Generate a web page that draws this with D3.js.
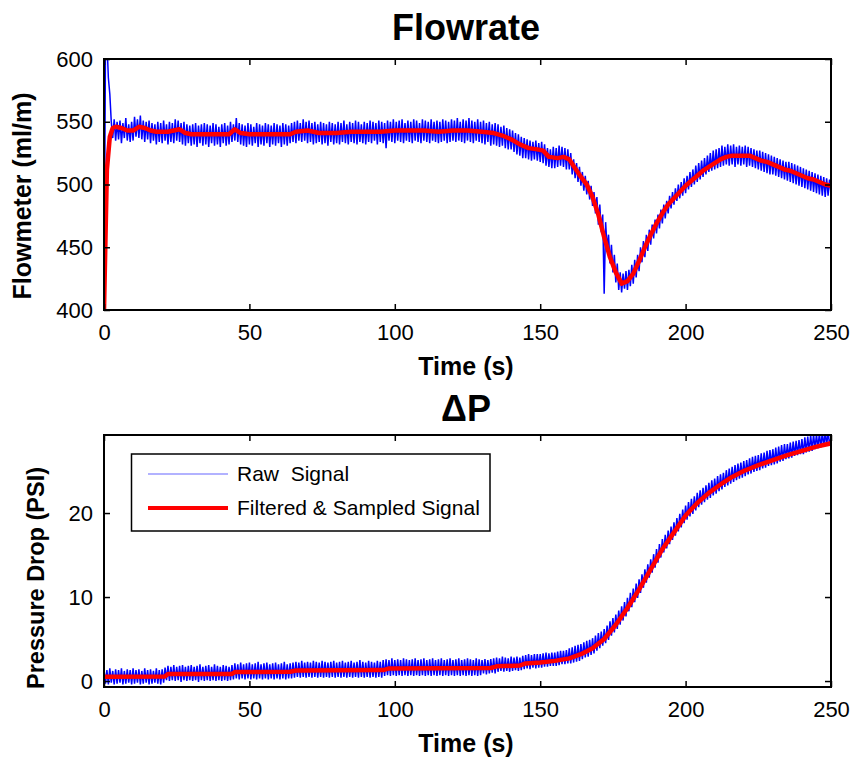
<!DOCTYPE html>
<html><head><meta charset="utf-8">
<script src="https://cdn.jsdelivr.net/npm/d3@7"></script>
<style>body{margin:0;background:#fff} text{font-family:"Liberation Sans",Arial,sans-serif;fill:#000}</style>
</head><body><svg id="c" width="855" height="760"></svg>
<script>
// ---------- data ----------
const rawStep = 0.5; // s between raw samples
const rawFlow = [
400,605,615,585,572,550,537,552,535,550,
536,551,533,549,537,553,535,548,534,550,
535,554,538,552,537,555,536,551,534,550,
536,551,533,549,535,548,532,550,534,549,
533,551,535,548,532,550,534,549,533,552,
535,551,534,549,532,550,531,548,533,547,
531,548,532,549,530,547,533,548,531,549,
532,548,530,547,533,549,531,548,532,546,
530,548,533,549,531,547,532,550,534,548,
535,553,534,549,532,548,531,547,530,549,
532,548,531,546,533,549,530,548,532,547,
531,549,533,548,530,547,532,549,531,548,
533,547,530,549,532,548,531,547,533,549,
534,550,533,551,535,549,534,552,535,550,
533,551,534,549,532,550,533,548,534,550,
532,549,533,548,531,550,534,549,532,548,
533,550,532,549,534,551,533,548,532,550,
534,549,533,551,532,550,534,548,533,550,
532,549,534,551,533,550,535,549,532,551,
534,550,533,549,529,551,535,550,534,552,
533,550,535,551,534,552,533,549,535,551,
534,550,533,552,535,551,534,549,533,552,
535,551,534,550,533,552,535,550,534,551,
533,550,534,552,535,551,533,550,534,552,
535,551,534,553,535,550,534,552,533,551,
535,553,534,551,533,550,535,552,534,550,
533,551,532,549,534,550,531,548,532,549,
531,548,530,546,531,547,529,545,528,544,
528,543,526,541,524,540,523,538,521,537,
521,536,520,535,519,534,520,535,519,533,
518,534,517,532,515,529,514,528,513,530,
513,529,514,531,515,530,514,529,512,528,
512,525,508,520,505,517,502,514,499,510,
495,507,492,503,488,499,483,494,477,490,
468,484,462,476,413,470,449,460,437,452,
430,444,422,437,416,430,414,429,417,431,
416,432,419,436,421,440,426,444,431,450,
438,455,442,460,447,464,452,468,457,472,
461,476,465,480,469,484,473,487,477,491,
481,494,484,497,487,500,489,502,491,505,
493,507,496,510,498,512,500,515,502,517,
504,519,506,521,508,523,510,525,511,527,
512,528,513,529,514,531,515,530,516,532,
515,531,516,532,514,530,516,531,515,530,
516,531,514,530,515,529,514,528,513,527,
512,527,511,526,510,525,509,524,508,523,
508,522,507,521,506,520,505,519,504,518,
503,518,502,517,501,516,500,515,499,514,
498,513,497,512,496,511,495,510,494,509,
493,508,492,507,491,506,490,505,491,504,
493];
const rawDP = [
1.4,-0.3,1.3,-0.4,1.5,-0.2,1.2,-0.4,1.4,-0.3,
1.3,-0.2,1.5,-0.4,1.2,-0.3,1.4,-0.2,1.3,-0.4,
1.5,-0.3,1.3,-0.2,1.4,-0.4,1.2,-0.3,1.5,-0.2,
1.3,-0.4,1.4,-0.3,1.2,-0.2,1.5,-0.3,1.3,-0.4,
1.4,-0.2,1.6,0.1,1.8,0.0,1.7,0.1,1.9,0.0,
1.7,0.1,1.8,-0.1,1.9,0.1,1.7,0.0,1.8,0.1,
1.9,0.0,1.7,0.1,1.8,-0.1,2.0,0.1,1.7,0.0,
1.8,0.1,1.9,0.0,1.7,0.1,2.0,0.0,1.8,0.1,
1.7,0.0,1.9,0.1,1.8,0.0,1.7,0.1,1.9,0.2,
2.1,0.3,2.0,0.2,2.2,0.3,2.0,0.2,2.1,0.3,
2.2,0.2,2.0,0.3,2.1,0.2,2.3,0.3,2.0,0.2,
2.1,0.3,2.2,0.2,2.0,0.3,2.1,0.2,2.2,0.3,
2.0,0.2,2.1,0.3,2.3,0.2,2.0,0.3,2.1,0.3,
2.2,0.4,2.3,0.5,2.2,0.4,2.4,0.5,2.2,0.4,
2.3,0.5,2.2,0.4,2.4,0.5,2.3,0.4,2.2,0.5,
2.4,0.4,2.3,0.5,2.2,0.4,2.3,0.5,2.4,0.4,
2.2,0.5,2.3,0.4,2.4,0.5,2.2,0.4,2.3,0.5,
2.4,0.4,2.2,0.5,2.3,0.4,2.5,0.5,2.3,0.4,
2.2,0.5,2.4,0.4,2.3,0.5,2.2,0.4,2.4,0.5,
2.3,0.4,2.5,0.6,2.6,0.7,2.5,0.6,2.7,0.7,
2.5,0.6,2.6,0.7,2.5,0.6,2.7,0.7,2.6,0.6,
2.5,0.7,2.6,0.6,2.7,0.7,2.5,0.6,2.6,0.7,
2.7,0.6,2.5,0.7,2.6,0.6,2.7,0.7,2.5,0.6,
2.6,0.7,2.7,0.6,2.5,0.7,2.6,0.6,2.7,0.7,
2.5,0.6,2.6,0.7,2.7,0.6,2.5,0.7,2.6,0.6,
2.7,0.7,2.6,0.6,2.5,0.7,2.7,0.6,2.6,0.7,
2.5,0.9,2.6,0.8,2.5,0.9,2.6,1.0,2.7,0.9,
2.8,1.1,2.7,1.2,2.9,1.1,2.8,1.2,2.7,1.1,
2.9,1.2,2.8,1.3,2.9,1.2,2.8,1.3,3.0,1.4,
3.1,1.5,3.2,1.4,3.1,1.6,3.2,1.5,3.2,1.6,
3.2,1.6,3.3,1.7,3.4,1.7,3.3,1.8,3.4,1.8,
3.4,1.8,3.5,1.9,3.6,2.0,3.6,2.0,3.7,2.1,
3.9,2.1,4.0,2.2,4.2,2.3,4.3,2.4,4.4,2.6,
4.6,2.8,4.8,2.9,4.9,3.1,5.1,3.3,5.4,3.6,
5.7,3.9,5.9,4.2,6.2,4.5,6.6,4.9,7.1,5.4,
7.5,5.8,7.9,6.2,8.4,6.7,8.9,7.2,9.4,7.7,
9.9,8.3,10.5,8.8,11.0,9.4,11.6,9.9,12.1,10.5,
12.7,11.1,13.3,11.7,13.9,12.3,14.5,12.9,15.1,13.5,
15.7,14.1,16.3,14.7,16.9,15.3,17.4,15.8,17.9,16.3,
18.4,16.8,18.9,17.3,19.4,17.8,19.9,18.3,20.4,18.8,
20.9,19.2,21.3,19.6,21.7,19.9,22.0,20.3,22.4,20.7,
22.7,21.0,23.0,21.3,23.3,21.6,23.6,21.8,23.9,22.1,
24.1,22.3,24.4,22.6,24.6,22.8,24.8,23.1,25.1,23.3,
25.3,23.5,25.5,23.7,25.7,23.9,25.9,24.1,26.0,24.2,
26.2,24.4,26.3,24.6,26.5,24.7,26.7,24.9,26.8,25.0,
26.9,25.1,27.1,25.3,27.2,25.4,27.4,25.6,27.5,25.7,
27.6,25.8,27.8,25.9,27.9,26.1,28.1,26.2,28.2,26.4,
28.2,26.5,28.4,26.6,28.5,26.8,28.6,26.9,28.7,27.0,
28.8,27.0,29.0,27.2,29.1,27.3,29.3,27.4,29.4,27.6,
29.4,27.7,29.5,27.8,29.6,27.9,29.7,28.0,29.8,28.1,
29.0];
const filtFlowT = [0,1,2,3,4,6,8,10,12,14,16,18,20,22,24,26,28,30,35,40,43,45,47,50,55,60,64,66,70,74,80,85,90,95,100,105,110,115,120,125,130,134,137,140,143,146,149,151,153,156,158,160,162,164,166,168,170,172,174,176,178,180,182,184,186,188,190,192,194,196,198,200,202,204,206,208,210,212,214,216,218,220,222,224,226,228,230,232,234,236,238,240,242,244,246,248,250];
const filtFlow  = [400,512,538,545,546,545,543,543,546,545,543,542,542,542,543,544,541,540,540,540,540,544,541,540,540,540,540,542,543,541,541,542,542,542,543,543,543,542,543,543,542,541,539,536,532,529,528,527,522,521,522,520,513,506,500,490,476,458,442,430,421,423,429,439,450,460,469,477,484,489,494,499,503,507,511,514,517,520,522,523,523,523,523,521,519,518,516,514,512,511,509,507,505,504,502,500,499];
const filtDPT = [0,21,22,44,45,64,66,96,98,133,135,143,145,150,155,160,164,168,172,176,180,184,188,192,196,200,204,208,212,216,220,225,230,235,240,245,250];
const filtDP  = [0.5,0.55,0.85,0.85,1.07,1.1,1.25,1.3,1.5,1.55,1.75,1.85,2.1,2.2,2.4,2.7,3.2,3.9,5.0,6.7,8.7,10.9,13.3,15.7,17.7,19.7,21.2,22.4,23.4,24.3,25.0,25.7,26.3,26.9,27.4,27.9,28.3];
const xTicks = [0,50,100,150,200,250];
const flowTicks = [400,450,500,550,600];
const dpTicks = [0,10,20];
const legendLabels = ["Raw  Signal","Filtered & Sampled Signal"];

// ---------- drawing ----------
const svg = d3.select("#c");
svg.append("rect").attr("width",855).attr("height",760).attr("fill","#fff");
const X0=104, X1=831;

function panel(cfg){
  const x = d3.scaleLinear().domain([0,250]).range([X0,X1]);
  const y = d3.scaleLinear().domain(cfg.yDom).range([cfg.y1,cfg.y0]);
  const g = svg.append("g");
  const cid = "clip"+cfg.id;
  svg.append("clipPath").attr("id",cid).append("rect")
     .attr("x",X0).attr("y",cfg.y0).attr("width",X1-X0).attr("height",cfg.y1-cfg.y0);
  const dg = g.append("g").attr("clip-path","url(#"+cid+")");
  const rawLine = d3.line().x((d,i)=>x(i*rawStep)).y(d=>y(d));
  dg.append("path").datum(cfg.raw).attr("d",rawLine)
    .attr("fill","none").attr("stroke","#0000ff").attr("stroke-width",1.5);
  const fl = d3.line().x((d,i)=>x(cfg.ft[i])).y(d=>y(d));
  dg.append("path").datum(cfg.filt).attr("d",fl)
    .attr("fill","none").attr("stroke","#ff0000").attr("stroke-width",4.5)
    .attr("stroke-linejoin","round");
  // axes
  const fs = "22px";
  const ab = g.append("g").attr("transform",`translate(0,${cfg.y1})`)
    .call(d3.axisBottom(x).tickValues(xTicks).tickSizeInner(-6).tickSizeOuter(0).tickPadding(14));
  const at = g.append("g").attr("transform",`translate(0,${cfg.y0})`)
    .call(d3.axisTop(x).tickValues(xTicks).tickSizeInner(-6).tickSizeOuter(0).tickFormat(""));
  const al = g.append("g").attr("transform",`translate(${X0},0)`)
    .call(d3.axisLeft(y).tickValues(cfg.yt).tickSizeInner(-6).tickSizeOuter(0).tickPadding(11));
  const ar = g.append("g").attr("transform",`translate(${X1},0)`)
    .call(d3.axisRight(y).tickValues(cfg.yt).tickSizeInner(-6).tickSizeOuter(0).tickFormat(""));
  [ab,at,al,ar].forEach(a=>{
    a.select(".domain").remove();
    a.selectAll(".tick line").attr("stroke","#000").attr("stroke-width",1.5);
    a.selectAll("text").attr("font-size",fs).attr("font-family","Liberation Sans, Arial, sans-serif").attr("fill","#000");
  });
  g.append("rect").attr("x",X0).attr("y",cfg.y0).attr("width",X1-X0).attr("height",cfg.y1-cfg.y0)
    .attr("fill","none").attr("stroke","#000").attr("stroke-width",2);
  // labels
  svg.append("text").attr("x",466).attr("y",cfg.titleY).attr("text-anchor","middle")
    .attr("font-size","36px").attr("font-weight","bold").text(cfg.title);
  svg.append("text").attr("x",466).attr("y",cfg.y1+65).attr("text-anchor","middle")
    .attr("font-size","25px").attr("font-weight","bold").text("Time (s)");
  svg.append("text").attr("transform",`translate(${cfg.ylx},${cfg.ylc}) rotate(-90)`)
    .attr("text-anchor","middle").attr("font-size",cfg.ylfs).attr("font-weight","bold").text(cfg.ylabel);
  return {x,y};
}

panel({id:1,y0:59,y1:310,yDom:[400,600],yt:flowTicks,raw:rawFlow,ft:filtFlowT,filt:filtFlow,
  title:"Flowrate",titleY:40,ylabel:"Flowmeter (ml/m)",ylx:31,ylc:196,ylfs:"25px"});
panel({id:2,y0:435,y1:687,yDom:[-0.71,29.29],yt:dpTicks,raw:rawDP,ft:filtDPT,filt:filtDP,
  title:"\u0394P",titleY:421,ylabel:"Pressure Drop (PSI)",ylx:44,ylc:578,ylfs:"23.5px"});

// legend
const lg = svg.append("g");
lg.append("rect").attr("x",131.5).attr("y",454).attr("width",358.5).attr("height",77)
  .attr("fill","#fff").attr("stroke","#000").attr("stroke-width",1.5);
const legColors = ["#0000ff","#ff0000"], legW=[1,4], legY=[474,508];
legendLabels.forEach((lab,i)=>{
  lg.append("line").attr("x1",148).attr("x2",228).attr("y1",legY[i]).attr("y2",legY[i])
    .attr("stroke",legColors[i]).attr("stroke-width",legW[i]).attr("opacity",i===0?0.6:1);
  lg.append("text").attr("x",237).attr("y",legY[i]+7).attr("font-size","21px")
    .attr("xml:space","preserve").style("white-space","pre").text(lab);
});
</script></body></html>
